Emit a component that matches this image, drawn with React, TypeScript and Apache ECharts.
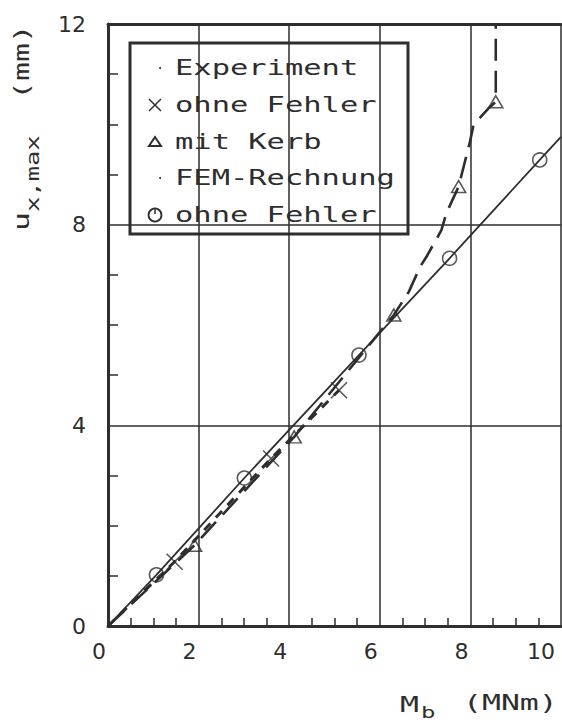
import React, { useEffect, useRef } from "react";
import * as echarts from "echarts";

// x: M_b (MNm), y: u_x,max (mm)
const xTickValues = [0, 2, 4, 6, 8, 10];
const yTickValues = [0, 4, 8, 12];

// FEM-Rechnung, ohne Fehler (circles) and its solid line
const femPoints: [number, number][] = [
  [1.07, 1.02],
  [3.01, 2.95],
  [5.54, 5.4],
  [7.54, 7.33],
  [9.53, 9.29],
];
const femLine: [number, number][] = [[0, 0], ...femPoints, [10, 9.75]];

// Experiment, ohne Fehler (crosses)
const expPoints: [number, number][] = [
  [1.47, 1.28],
  [3.6, 3.34],
  [5.1, 4.7],
];
const expLine: [number, number][] = [[0, 0], ...expPoints];

// Experiment, mit Kerb (triangles) and its dashed curve
const kerbPoints: [number, number][] = [
  [1.91, 1.61],
  [4.11, 3.77],
  [6.31, 6.2],
  [7.74, 8.76],
  [8.56, 10.45],
];
const kerbLine: [number, number][] = [
  [0, 0],
  [1.91, 1.61],
  [4.11, 3.77],
  [6.31, 6.2],
  [6.64, 6.66],
  [6.89, 7.16],
  [7.03, 7.36],
  [7.36, 7.89],
  [7.47, 8.23],
  [7.74, 8.76],
  [7.99, 9.65],
  [8.07, 9.99],
  [8.4, 10.32],
  [8.56, 10.45],
  [8.56, 12],
];

const legendRows = ["Experiment", "ohne Fehler", "mit Kerb", "FEM-Rechnung", "ohne Fehler"];

const INK = "#2e2e2e";
const MONO = "DejaVu Sans Mono";

export default function App() {
  const ref = useRef<HTMLDivElement>(null);
  useEffect(() => {
    if (!ref.current) return;
    const chart = echarts.init(ref.current, undefined, { renderer: "svg" });

    const rowY = [68, 105, 142, 178, 215];
    const legendChildren: any[] = [
      {
        type: "rect",
        shape: { x: 130, y: 43, width: 278, height: 191 },
        style: { fill: "#fff", stroke: INK, lineWidth: 3 },
      },
    ];
    legendRows.forEach((t, i) => {
      legendChildren.push({
        type: "text",
        x: 175,
        y: rowY[i],
        scaleX: 1.45,
        style: {
          text: t,
          fontFamily: MONO,
          fontSize: 21,
          fill: INK,
          align: "left",
          verticalAlign: "middle",
        },
      });
    });
    // symbols
    legendChildren.push(
      { type: "circle", shape: { cx: 160, cy: rowY[0], r: 1 }, style: { fill: INK } },
      { type: "circle", shape: { cx: 160, cy: rowY[3], r: 1 }, style: { fill: INK } },
      { type: "line", shape: { x1: 149, y1: rowY[1] - 6, x2: 161, y2: rowY[1] + 6 }, style: { stroke: INK, lineWidth: 1.5 } },
      { type: "line", shape: { x1: 161, y1: rowY[1] - 6, x2: 149, y2: rowY[1] + 6 }, style: { stroke: INK, lineWidth: 1.5 } },
      {
        type: "polygon",
        shape: { points: [[155, rowY[2] - 5], [161, rowY[2] + 4], [149, rowY[2] + 4]] },
        style: { fill: "none", stroke: INK, lineWidth: 2 },
      },
      { type: "circle", shape: { cx: 155, cy: rowY[4], r: 6.5 }, style: { fill: "none", stroke: INK, lineWidth: 1.8 } },
      { type: "line", shape: { x1: 155, y1: rowY[4] - 6, x2: 155, y2: rowY[4] - 1 }, style: { stroke: INK, lineWidth: 1.5 } }
    );

    const nameText = (text: string, x: number, y: number, size: number, rot = 0, align = "left") => ({
      type: "text",
      x,
      y,
      rotation: rot,
      scaleX: 1.5,
      style: {
        text,
        fontFamily: MONO,
        fontSize: size,
        fill: INK,
        align,
        verticalAlign: "middle",
      },
    });

    const sym = (symbol: string, size: any) => ({
      symbol,
      symbolSize: size,
      itemStyle: { color: "transparent", borderColor: INK, borderWidth: 1.6 },
    });

    chart.setOption({
      animation: false,
      grid: { left: 108, top: 24, right: 1, bottom: 99 },
      xAxis: [
        {
          type: "value",
          min: 0,
          max: 10,
          interval: 2,
          axisLine: { show: true, onZero: false, lineStyle: { color: INK, width: 3 } },
          axisTick: { show: false, inside: true },
          minorTick: { show: true, splitNumber: 4, length: 8, lineStyle: { color: INK, width: 1.5 } },
          splitLine: { show: true, lineStyle: { color: INK, width: 1.5 } },
          axisLabel: {
            margin: 14,
            formatter: (v: number) => (xTickValues.indexOf(v) === xTickValues.length - 1 ? `{e|${v}}` : `{n|${v}}`),
            rich: {
              n: { fontFamily: "DejaVu Sans", fontSize: 22, color: INK, padding: [0, 18, 0, 0] },
              e: { fontFamily: "DejaVu Sans", fontSize: 22, color: INK, padding: [0, 40, 0, 0] },
            },
          },
        },
        {
          type: "value",
          position: "top",
          min: 0,
          max: 10,
          axisLine: { show: true, onZero: false, lineStyle: { color: INK, width: 3 } },
          axisTick: { show: false },
          axisLabel: { show: false },
          splitLine: { show: false },
        },
      ],
      yAxis: {
        type: "value",
        min: 0,
        max: 12,
        interval: 4,
        axisLine: { show: true, onZero: false, lineStyle: { color: INK, width: 3 } },
        axisTick: { show: false, inside: true },
        minorTick: { show: true, splitNumber: 4, length: 10, lineStyle: { color: INK, width: 1.5 } },
        splitLine: { show: true, lineStyle: { color: INK, width: 1.5 } },
        axisLabel: {
          margin: 22,
          fontFamily: "DejaVu Sans",
          fontSize: 22,
          color: INK,
          formatter: (v: number) => (yTickValues.indexOf(v) >= 0 ? String(v) : ""),
        },
      },
      series: [
        {
          type: "line",
          name: "FEM ohne Fehler",
          data: femLine,
          symbol: "none",
          lineStyle: { color: INK, width: 1.8 },
          z: 3,
        },
        {
          type: "line",
          name: "Experiment ohne Fehler",
          data: expLine,
          symbol: "none",
          lineStyle: { color: INK, width: 3, type: [9, 8] },
          z: 2,
        },
        {
          type: "line",
          name: "Experiment mit Kerb",
          data: kerbLine,
          symbol: "none",
          lineStyle: { color: INK, width: 2.6, type: [22, 10] },
          z: 2,
        },
        { type: "scatter", name: "FEM ohne Fehler pts", data: femPoints, ...sym("circle", 14), z: 5 },
        { type: "scatter", name: "Exp ohne Fehler pts", data: expPoints, ...sym("path://M0 0L10 10M10 0L0 10", 16), z: 5 },
        { type: "scatter", name: "Exp mit Kerb pts", data: kerbPoints, ...sym("triangle", [14, 12]), z: 5 },
      ],
      graphic: [
        { type: "group", children: legendChildren, z: 10 },
        // x axis name: M_b (MNm)
        nameText("M", 400, 705, 21),
        nameText("b", 421, 713, 16),
        nameText("(MNm)", 463, 703, 21),
        // y axis name: u_x,max (mm), rotated
        nameText("u", 22, 231, 21, Math.PI / 2),
        nameText("x,max", 33, 212, 17, Math.PI / 2),
        nameText("(mm)", 22, 100, 21, Math.PI / 2),
      ],
    });
    return () => chart.dispose();
  }, []);
  return <div ref={ref} style={{ position: "absolute", left: 0, top: 0, width: 562, height: 725 }} />;
}
